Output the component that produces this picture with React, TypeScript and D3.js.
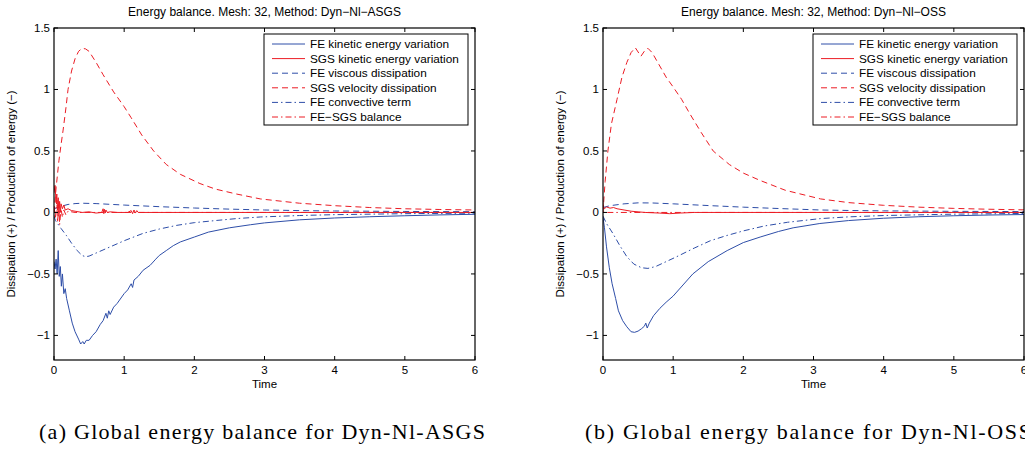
import React from "react";
import * as d3 from "d3";

type P = [number, number];

const xTicks = [0, 1, 2, 3, 4, 5, 6];
const yTicks = [1.5, 1, 0.5, 0, -0.5, -1];
const legendLabels = [
  "FE kinetic energy variation",
  "SGS kinetic energy variation",
  "FE viscous dissipation",
  "SGS velocity dissipation",
  "FE convective term",
  "FE\u2212SGS balance",
];
const titles = [
  "Energy balance. Mesh: 32, Method: Dyn\u2212Nl\u2212ASGS",
  "Energy balance. Mesh: 32, Method: Dyn\u2212Nl\u2212OSS",
];
const captions = [
  "(a)  Global energy balance for Dyn-Nl-ASGS",
  "(b)  Global energy balance for Dyn-Nl-OSS",
];

// ---------- ASGS ----------
const feKinA: P[] = [
  [0, -0.4], [0.015, -0.46], [0.03, -0.38], [0.045, -0.5], [0.06, -0.31], [0.075, -0.52],
  [0.09, -0.44], [0.105, -0.6], [0.12, -0.5], [0.14, -0.66], [0.16, -0.62], [0.18, -0.7],
  [0.22, -0.8], [0.26, -0.9], [0.3, -0.97], [0.35, -1.03], [0.38, -1.07], [0.41, -1.05],
  [0.43, -1.07], [0.46, -1.04], [0.5, -1.04], [0.55, -1.0], [0.6, -0.97], [0.66, -0.91],
  [0.7, -0.88], [0.74, -0.82], [0.76, -0.86], [0.78, -0.8], [0.8, -0.83], [0.85, -0.77],
  [0.9, -0.74], [1.0, -0.66], [1.05, -0.63], [1.1, -0.58], [1.12, -0.61], [1.14, -0.55],
  [1.2, -0.52], [1.27, -0.47], [1.37, -0.43], [1.45, -0.38], [1.5, -0.35], [1.6, -0.31],
  [1.7, -0.27], [1.8, -0.24], [2.0, -0.2], [2.2, -0.16], [2.5, -0.125], [2.8, -0.1],
  [3.0, -0.085], [3.5, -0.06], [4.0, -0.045], [4.5, -0.035], [5.0, -0.027], [5.5, -0.02],
  [6.0, -0.015],
];
const sgsKinA: P[] = [
  [0, 0.16], [0.015, 0.22], [0.03, 0.08], [0.04, 0.15], [0.05, 0.02], [0.06, 0.12],
  [0.07, -0.03], [0.08, 0.09], [0.09, 0.0], [0.1, 0.07], [0.12, 0.03], [0.14, 0.06],
  [0.16, 0.02], [0.2, 0.03], [0.25, 0.015], [0.3, 0.01], [0.4, 0.0], [0.5, 0.005],
  [0.6, -0.005], [0.68, 0.0], [0.7, 0.03], [0.71, -0.01], [0.72, 0.025], [0.73, -0.005],
  [0.74, 0.02], [0.76, 0.0], [0.8, 0.005], [0.9, 0.0], [1.05, 0.0], [1.1, 0.015],
  [1.12, -0.01], [1.14, 0.02], [1.16, -0.005], [1.18, 0.015], [1.2, 0.0], [1.4, 0.0],
  [2, 0.0], [3, 0.0], [6, 0.0],
];
const feViscA: P[] = [
  [0, 0.03], [0.1, 0.05], [0.2, 0.065], [0.3, 0.072], [0.4, 0.075], [0.6, 0.072],
  [0.8, 0.066], [1.0, 0.06], [1.5, 0.047], [2.0, 0.036], [2.5, 0.027], [3.0, 0.02],
  [3.5, 0.015], [4, 0.012], [5, 0.008], [6, 0.006],
];
const sgsViscA: P[] = [
  [0, 0.0], [0.03, 0.2], [0.07, 0.42], [0.1, 0.55], [0.13, 0.67], [0.17, 0.85],
  [0.2, 1.0], [0.25, 1.15], [0.3, 1.25], [0.35, 1.31], [0.4, 1.335], [0.45, 1.33],
  [0.5, 1.31], [0.6, 1.22], [0.7, 1.12], [0.85, 0.98], [1.0, 0.86], [1.1, 0.77],
  [1.25, 0.63], [1.42, 0.5], [1.6, 0.39], [1.8, 0.31], [2.08, 0.235], [2.3, 0.19],
  [2.6, 0.15], [2.94, 0.11], [3.5, 0.075], [4, 0.055], [4.5, 0.04], [5, 0.03],
  [5.5, 0.024], [6, 0.02],
];
const feConvA: P[] = [
  [0, -0.03], [0.02, -0.065], [0.1, -0.13], [0.18, -0.19], [0.25, -0.25], [0.33, -0.31],
  [0.4, -0.35], [0.45, -0.36], [0.5, -0.355], [0.6, -0.33], [0.8, -0.28], [1.0, -0.23],
  [1.27, -0.17], [1.5, -0.135], [1.75, -0.105], [2.0, -0.083], [2.32, -0.065],
  [2.6, -0.05], [2.94, -0.037], [3.5, -0.025], [4, -0.018], [5, -0.01], [6, -0.006],
];
const balanceA: P[] = [
  [0, 0.05], [0.02, -0.05], [0.04, 0.1], [0.05, -0.08], [0.07, 0.06], [0.08, -0.1],
  [0.1, 0.03], [0.12, -0.04], [0.14, 0.02], [0.17, -0.02], [0.2, 0.01], [0.3, 0.0],
  [6, 0.0],
];

// ---------- OSS ----------
const feKinB: P[] = [
  [0, -0.04], [0.02, -0.12], [0.05, -0.28], [0.09, -0.45], [0.13, -0.58], [0.18, -0.7],
  [0.22, -0.8], [0.28, -0.88], [0.34, -0.93], [0.4, -0.97], [0.45, -0.975], [0.5, -0.965],
  [0.55, -0.945], [0.59, -0.925], [0.61, -0.9], [0.63, -0.94], [0.66, -0.9], [0.72, -0.84],
  [0.81, -0.78], [0.9, -0.73], [1.0, -0.68], [1.14, -0.59], [1.28, -0.5], [1.5, -0.4],
  [1.77, -0.31], [2.0, -0.245], [2.24, -0.2], [2.5, -0.155], [2.71, -0.125], [3.09, -0.09],
  [3.5, -0.066], [4, -0.047], [4.5, -0.035], [5, -0.027], [5.5, -0.021], [6, -0.017],
];
const sgsKinB: P[] = [
  [0, 0.06], [0.02, 0.03], [0.05, 0.045], [0.1, 0.035], [0.15, 0.04], [0.2, 0.03],
  [0.3, 0.02], [0.4, 0.01], [0.5, 0.005], [0.6, 0.0], [0.8, -0.005], [0.95, -0.01],
  [1.1, -0.005], [1.3, 0.0], [6, 0.0],
];
const feViscB: P[] = [
  [0, 0.04], [0.1, 0.055], [0.3, 0.07], [0.5, 0.078], [0.7, 0.077], [1.0, 0.07],
  [1.5, 0.056], [2, 0.043], [2.5, 0.032], [3.1, 0.02], [3.5, 0.016], [4, 0.013],
  [5, 0.009], [6, 0.007],
];
const sgsViscB: P[] = [
  [0, 0.0], [0.03, 0.25], [0.07, 0.5], [0.12, 0.72], [0.2, 0.92], [0.27, 1.1],
  [0.34, 1.22], [0.4, 1.3], [0.46, 1.34], [0.54, 1.27], [0.6, 1.32], [0.64, 1.335],
  [0.7, 1.3], [0.8, 1.2], [0.9, 1.1], [1.0, 1.02], [1.12, 0.92], [1.24, 0.8],
  [1.4, 0.65], [1.57, 0.5], [1.8, 0.39], [2.0, 0.32], [2.24, 0.26], [2.6, 0.18],
  [3.1, 0.11], [3.5, 0.08], [4, 0.058], [4.5, 0.043], [5, 0.033], [5.5, 0.026], [6, 0.021],
];
const feConvB: P[] = [
  [0, -0.03], [0.05, -0.09], [0.14, -0.17], [0.24, -0.27], [0.34, -0.36], [0.44, -0.42],
  [0.55, -0.45], [0.64, -0.455], [0.75, -0.44], [0.9, -0.4], [1.05, -0.36], [1.3, -0.29],
  [1.53, -0.23], [1.75, -0.19], [2.0, -0.15], [2.3, -0.11], [2.63, -0.08], [3.1, -0.05],
  [3.5, -0.036], [4, -0.025], [5, -0.014], [6, -0.008],
];
const balanceB: P[] = [[0, 0.08], [0.01, 0.0], [0.1, 0.0], [6, 0.0]];

const BLUE = "#2e4ea8";
const RED = "#ec1c24";
const DASH = "6,4";
const DASHDOT = "6,3,1.5,3";
const styles = [
  { color: BLUE, dash: undefined as string | undefined },
  { color: RED, dash: undefined as string | undefined },
  { color: BLUE, dash: DASH },
  { color: RED, dash: DASH },
  { color: BLUE, dash: DASHDOT },
  { color: RED, dash: DASHDOT },
];

const panels = [
  { left: 54, capX: 39, title: titles[0], caption: captions[0], series: [feKinA, sgsKinA, feViscA, sgsViscA, feConvA, balanceA] },
  { left: 603, capX: 585, title: titles[1], caption: captions[1], series: [feKinB, sgsKinB, feViscB, sgsViscB, feConvB, balanceB] },
];

const FONT = "'Liberation Sans', Arial, Helvetica, sans-serif";
const TOP = 28;
const W = 421;
const H = 332;

function Panel({ left, capX, title, caption, series }: any) {
  const x = d3.scaleLinear().domain([0, 6]).range([left, left + W]);
  const y = d3.scaleLinear().domain([-1.2, 1.5]).range([TOP + H, TOP]);
  const line = d3.line<P>().x((d) => x(d[0])).y((d) => y(d[1]));
  const order = [3, 2, 4, 0, 5, 1];
  const lgX = left + 210;
  const lgY = 34;
  return (
    <g>
      <text x={left + W / 2} y={16} fontSize={12} textAnchor="middle" fontFamily={FONT}>{title}</text>
      <defs>
        <clipPath id={`clip${left}`}>
          <rect x={left} y={TOP} width={W} height={H} />
        </clipPath>
      </defs>
      <g clipPath={`url(#clip${left})`}>
        {order.map((i) => (
          <path key={i} d={line(series[i]) || ""} fill="none" stroke={styles[i].color}
            strokeWidth={1} strokeDasharray={styles[i].dash} />
        ))}
      </g>
      <rect x={left} y={TOP} width={W} height={H} fill="none" stroke="#000" strokeWidth={1.2} />
      {xTicks.map((t) => (
        <g key={t}>
          <line x1={x(t)} x2={x(t)} y1={TOP + H} y2={TOP + H - 4} stroke="#000" />
          <line x1={x(t)} x2={x(t)} y1={TOP} y2={TOP + 4} stroke="#000" />
          <text x={x(t)} y={TOP + H + 14} fontSize={11.5} textAnchor="middle" fontFamily={FONT}>{t}</text>
        </g>
      ))}
      {yTicks.map((t) => (
        <g key={t}>
          <line x1={left} x2={left + 4} y1={y(t)} y2={y(t)} stroke="#000" />
          <line x1={left + W} x2={left + W - 4} y1={y(t)} y2={y(t)} stroke="#000" />
          <text x={left - 4} y={y(t) + 4} fontSize={11.5} textAnchor="end" fontFamily={FONT}>
            {t < 0 ? "\u2212" + Math.abs(t) : String(t)}
          </text>
        </g>
      ))}
      <text x={left + W / 2} y={TOP + H + 28} fontSize={11.5} textAnchor="middle" fontFamily={FONT}>Time</text>
      <text transform={`translate(${left - 39},${TOP + H / 2}) rotate(-90)`} fontSize={11.5}
        textAnchor="middle" fontFamily={FONT}>Dissipation (+) / Production of energy ({"\u2212"})</text>
      <rect x={lgX} y={lgY} width={204} height={91} fill="#fff" stroke="#000" strokeWidth={1} />
      {legendLabels.map((lab, i) => {
        const yy = lgY + 10 + i * 14.6;
        return (
          <g key={lab}>
            <line x1={lgX + 8} x2={lgX + 41} y1={yy} y2={yy} stroke={styles[i].color}
              strokeDasharray={styles[i].dash} strokeWidth={1} />
            <text x={lgX + 46} y={yy + 4} fontSize={11.8} fontFamily={FONT}>{lab}</text>
          </g>
        );
      })}
      <text x={capX} y={439} fontSize={22} textLength={446} lengthAdjust="spacing"
        fontFamily="'Liberation Serif', serif">{caption}</text>
    </g>
  );
}

export default function App() {
  return (
    <svg width={1025} height={453} style={{ position: "absolute", left: 0, top: 0, background: "#fff" }}>
      <rect width={1025} height={453} fill="#fff" />
      {panels.map((p) => (
        <Panel key={p.left} {...p} />
      ))}
    </svg>
  );
}
